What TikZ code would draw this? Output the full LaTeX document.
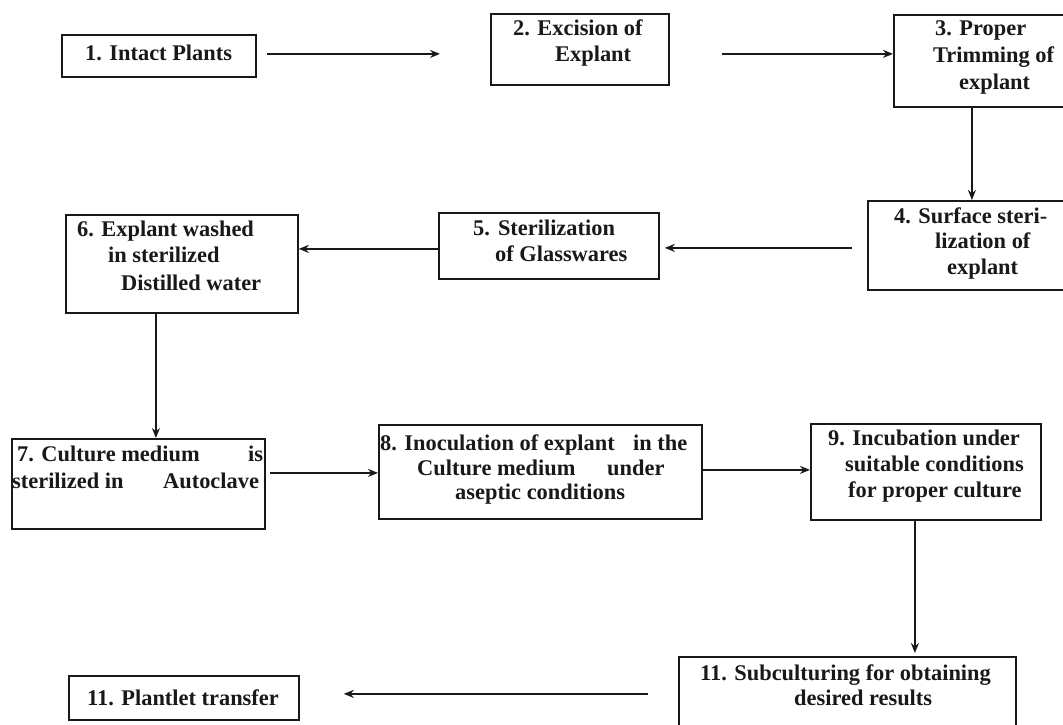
\documentclass[tikz,border=0pt]{standalone}
\usepackage{fontspec}
\setmainfont{Liberation Serif}
\usetikzlibrary{arrows.meta}
\begin{document}
\begin{tikzpicture}[x=1pt,y=-1pt,
  box/.style={draw=black!90, line width=1.8pt, rectangle, inner sep=0pt, anchor=north west},
  txt/.style={anchor=base west, inner sep=0pt, font=\fontsize{22.4pt}{26pt}\selectfont\bfseries, text=black!90},
  arr/.style={draw=black!90, line width=2.5pt, -{Stealth[length=10pt,width=8pt]}}]
\useasboundingbox[fill=white] (0,0) rectangle (1063,725);
\clip (0,0) rectangle (1063,725);
% boxes
\node[box, minimum width=194pt, minimum height=42pt] (b1) at (61,34) {};
\node[box, minimum width=178pt, minimum height=71pt] (b2) at (490,13) {};
\node[box, minimum width=180pt, minimum height=92pt] (b3) at (893,14) {};
\node[box, minimum width=206pt, minimum height=89pt] (b4) at (867,200) {};
\node[box, minimum width=220pt, minimum height=66pt] (b5) at (438,212) {};
\node[box, minimum width=232pt, minimum height=98pt] (b6) at (65,214) {};
\node[box, minimum width=253pt, minimum height=90pt] (b7) at (11,438) {};
\node[box, minimum width=323pt, minimum height=94pt] (b8) at (378,424) {};
\node[box, minimum width=230pt, minimum height=96pt] (b9) at (810,423) {};
\node[box, minimum width=337pt, minimum height=80pt] (b10) at (678,656) {};
\node[box, minimum width=230pt, minimum height=44pt] (b11) at (68,675) {};
% texts
\node[txt] (t1) at (85,60) {1. Intact Plants};
\node[txt] (t2a) at (513,36) {2. Excision of};
\node[txt] (t2b) at (555,62) {Explant};
\node[txt] (t3a) at (935,36) {3. Proper};
\node[txt] (t3b) at (933,63) {Trimming of};
\node[txt] (t3c) at (959,89) {explant};
\node[txt] (t4a) at (894,223) {4. Surface steri-};
\node[txt] (t4b) at (935,248) {lization of};
\node[txt] (t4c) at (947,274) {explant};
\node[txt] (t5a) at (473,235) {5.\hspace{8pt}Sterilization};
\node[txt] (t5b) at (495,261) {of Glasswares};
\node[txt] (t6a) at (77,236) {6. Explant washed};
\node[txt] (t6b) at (108,262) {in sterilized};
\node[txt] (t6c) at (121,290) {Distilled water};
\node[txt] (t7a) at (17,461) {7. Culture medium};
\node[txt] (t7b) at (248,461) {is};
\node[txt] (t7c) at (12,488) {sterilized in};
\node[txt] (t7d) at (163,488) {Autoclave};
\node[txt] (t8a) at (380,450) {8. Inoculation of explant};
\node[txt] (t8b) at (633,450) {in the};
\node[txt] (t8c) at (417,475) {Culture medium};
\node[txt] (t8d) at (607,475) {under};
\node[txt] (t8e) at (455,499) {aseptic conditions};
\node[txt] (t9a) at (828,445) {9. Incubation under};
\node[txt] (t9b) at (845,471) {suitable conditions};
\node[txt] (t9c) at (848,497) {for proper culture};
\node[txt] (t10a) at (700,680) {11. Subculturing for obtaining};
\node[txt] (t10b) at (794,705) {desired results};
\node[txt] (t11) at (87,705) {11. Plantlet transfer};
% connectors
\draw[arr, shorten <=10pt, shorten >=50pt] ([yshift=2pt]b1.east) -- ([yshift=2pt]b1.east -| b2.west);
\draw[arr, shorten <=52pt] ([yshift=-4.5pt]b2.east) -- ([yshift=-4.5pt]b2.east -| b3.west);
\draw[arr] ([xshift=-12pt]b3.south) -- ([xshift=-12pt]b3.south |- b4.north);
\draw[arr, shorten <=15pt, shorten >=5pt] ([yshift=-2.5pt]b4.west) -- ([yshift=-2.5pt]b4.west -| b5.east);
\draw[arr] ([yshift=-3pt]b5.west) -- ([yshift=-3pt]b5.west -| b6.east);
\draw[arr] ([xshift=-26pt]b6.south) -- ([xshift=-26pt]b6.south |- b7.north);
\draw[arr, shorten <=4pt] ([yshift=11pt]b7.east) -- ([yshift=11pt]b7.east -| b8.west);
\draw[arr] ([yshift=2pt]b8.east) -- ([yshift=2pt]b8.east -| b9.west);
\draw[arr, shorten >=3pt] ([xshift=-11pt]b9.south) -- ([xshift=-11pt]b9.south |- b10.north);
\draw[arr, shorten <=30pt, shorten >=44pt] ([yshift=3pt]b10.west) -- ([yshift=3pt]b10.west -| b11.east);
\end{tikzpicture}
\end{document}
